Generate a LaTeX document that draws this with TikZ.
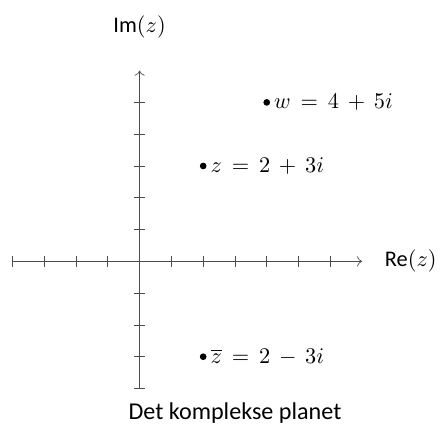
\documentclass[tikz,border=0pt]{standalone}
\usepackage{fontspec}
\setmainfont{Carlito}
\usetikzlibrary{arrows.meta,positioning}
\thickmuskip=8mu\relax
\medmuskip=7mu\relax

\begin{document}
\begin{tikzpicture}[
    txt/.style={font=\fontsize{10}{12}\selectfont, scale=2, transform shape},
    axis/.style={draw=black!70, line width=0.6pt},
    tick/.style={draw=black!70, line width=0.6pt},
    dot/.style={circle, fill=black, inner sep=0pt, minimum size=0.21cm},
    ptlabel/.style={txt, anchor=west, inner sep=1.5pt}
]
\useasboundingbox (-4.39,-5.14) rectangle (9.48,8.22);

% axes
\coordinate (xstart) at (-4,0);
\coordinate (xend) at (7,0);
\coordinate (ystart) at (0,-4);
\coordinate (yend) at (0,6);
\draw[axis, -{To[length=1.6mm, width=3.2mm]}] (xstart) -- (xend);
\draw[axis, -{To[length=1.6mm, width=3.2mm]}] (ystart) -- (yend);
\foreach \x in {-4,-3,-2,-1,1,2,3,4,5,6} {
    \draw[tick] (\x,0.17) -- (\x,-0.17);
}
\foreach \y in {-4,-3,-2,-1,1,2,3,4,5} {
    \draw[tick] (-0.16,\y) -- (0.16,\y);
}
\coordinate (repos) at (8.53,0);
\coordinate (impos) at (0,7.38);
\node[txt] (re) at (repos) {Re$(z)$};
\node[txt] (im) at (impos) {Im$(z)$};

% points
\node[dot] (w) at (4,5) {};
\node[ptlabel] (wlab) at (w.east) {$w = 4 + 5i$};
\node[dot] (z) at (2,3) {};
\node[ptlabel] (zlab) at (z.east) {$z = 2 + 3i$};
\node[dot] (zbar) at (2,-3) {};
\node[ptlabel] (zbarlab) at (zbar.east) {$\overline{z} = 2 - 3i$};

\coordinate (cappos) at (3,-4.78);
\node[txt, font=\fontsize{10.8}{13}\selectfont] (caption) at (cappos) {Det komplekse planet};
\end{tikzpicture}
\end{document}
